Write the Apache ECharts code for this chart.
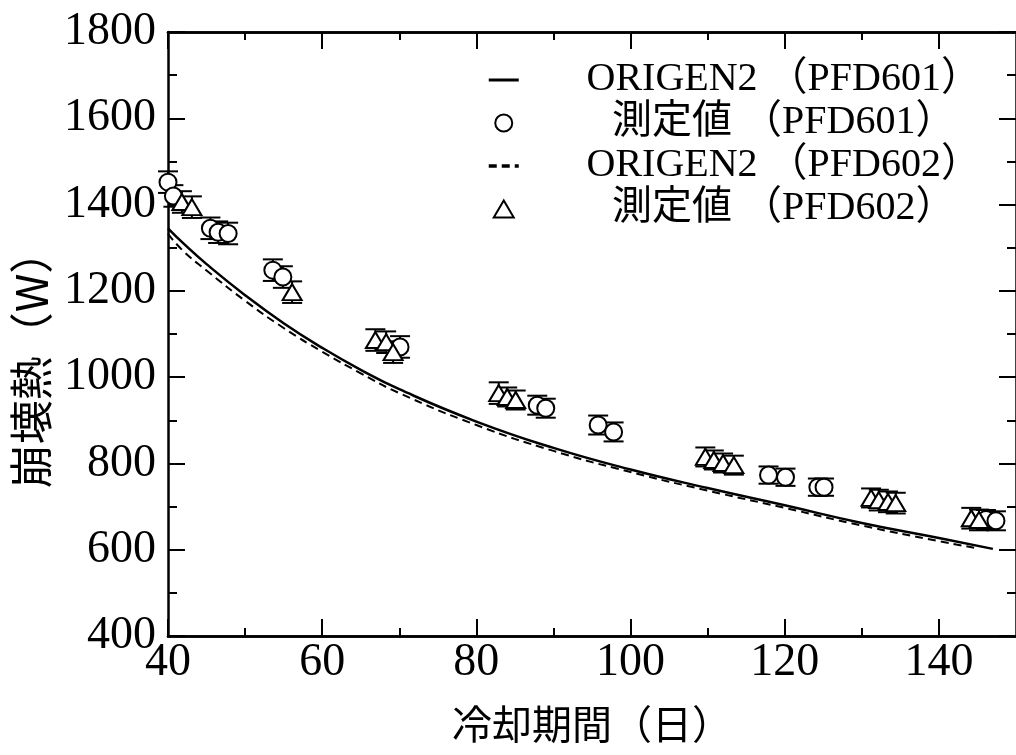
<!DOCTYPE html>
<html>
<head>
<meta charset="utf-8">
<script src="https://cdn.jsdelivr.net/npm/echarts@6/dist/echarts.min.js"></script>
<style>
html, body { margin: 0; padding: 0; background: #fff; }
#charts { width: 1016px; height: 755px; }
</style>
</head>
<body>
<div id="charts"></div>
<script>
// 崩壊熱の比較 (ORIGEN2 vs 測定値)
var seriesNames = ['ORIGEN2 （PFD601）', '測定値 （PFD601）', 'ORIGEN2 （PFD602）', '測定値 （PFD602）'];

var xTickLabels = [40, 60, 80, 100, 120, 140];
var xMinorTicks = [50, 70, 90, 110, 130];

// 計算値 (ORIGEN2)
var calc601 = [[40, 1345], [42, 1310], [45, 1262], [50, 1190], [55, 1125], [60, 1068], [65, 1017], [70, 972],
    [80, 897], [90, 836], [100, 786], [110, 743], [120, 703], [130, 662], [140, 627], [147, 602]];
var calc602 = [[40, 1332], [42, 1292], [45, 1247], [50, 1177], [55, 1114], [60, 1059], [65, 1009], [70, 963],
    [80, 889], [90, 829], [100, 780], [110, 737], [120, 697], [130, 656], [140, 620], [145, 603]];

// 測定値 [冷却期間, 崩壊熱]
var meas601 = [[40.0, 1452], [40.7, 1420], [45.5, 1345], [46.5, 1336], [47.8, 1333], [53.6, 1248], [54.9, 1232],
    [70.1, 1070], [87.9, 935], [89.0, 928], [95.8, 889], [97.8, 873], [117.9, 773], [120.1, 768],
    [124.3, 745], [125.1, 745], [146.1, 670], [147.4, 667]];
var meas602 = [[41.8, 1406], [43.1, 1394], [56.1, 1197], [66.9, 1086], [68.3, 1081], [69.2, 1058],
    [82.9, 963], [84.0, 954], [85.1, 947], [109.7, 815], [110.8, 808], [112.0, 801], [113.4, 796],
    [131.2, 720], [132.2, 715], [133.4, 711], [134.4, 708], [144.2, 673], [145.2, 669]];
// 誤差 (±W)
var err601 = [25, 25, 25, 25, 25, 25, 25, 25, 22, 22, 22, 22, 20, 20, 20, 20, 22, 22];
var err602 = [25, 25, 25, 25, 25, 25, 25, 22, 22, 22, 22, 22, 22, 22, 24, 24, 24, 24, 24];

function withErr(pts, errs) {
    return pts.map(function (p, i) { return [p[0], p[1], errs[i]]; });
}

function errorBar(params, api) {
    var x = api.value(0), y = api.value(1), e = api.value(2);
    var top = api.coord([x, y + e]);
    var bot = api.coord([x, y - e]);
    var hw = 10;
    var st = { stroke: '#000', lineWidth: 2 };
    return {
        type: 'group',
        children: [
            { type: 'line', shape: { x1: top[0], y1: top[1], x2: bot[0], y2: bot[1] }, style: st },
            { type: 'line', shape: { x1: top[0] - hw, y1: top[1], x2: top[0] + hw, y2: top[1] }, style: st },
            { type: 'line', shape: { x1: bot[0] - hw, y1: bot[1], x2: bot[0] + hw, y2: bot[1] }, style: st }
        ]
    };
}

var serif = "'Liberation Serif', 'Noto Sans CJK JP', serif";
var axisLine = { show: true, lineStyle: { color: '#000', width: 2.5 } };

function xAx(pos, major, showLabel) {
    return {
        type: 'value', position: pos, min: 40, max: 150,
        axisLine: axisLine,
        axisTick: { show: true, inside: true, length: major ? 17 : 8, lineStyle: { color: '#000', width: 2 },
            customValues: major ? xTickLabels : xMinorTicks },
        axisLabel: showLabel ? { show: true, customValues: xTickLabels, margin: 4, color: '#000',
            fontSize: 46, fontFamily: serif } : { show: false },
        splitLine: { show: false }
    };
}

function yAx(pos, showLabel) {
    return {
        type: 'value', position: pos, min: 400, max: 1800, interval: 200,
        axisLine: axisLine,
        axisTick: { show: true, inside: true, length: 17, lineStyle: { color: '#000', width: 2 } },
        minorTick: { show: true, splitNumber: 2, length: 9, lineStyle: { color: '#000', width: 2 } },
        axisLabel: showLabel ? { show: true, margin: 12, color: '#000', fontSize: 46, fontFamily: serif,
            formatter: function (v) { return String(v); } } : { show: false },
        splitLine: { show: false }
    };
}

var myChart = echarts.init(document.getElementById('charts'));

var xMain = xAx('bottom', true, true);
xMain.name = '冷却期間（日）';
xMain.nameLocation = 'middle';
xMain.nameGap = 68;
xMain.nameTextStyle = { color: '#000', fontSize: 40, fontFamily: "'Noto Sans CJK JP'" };

var yMain = yAx('left', true);
yMain.name = '崩壊熱（W）';
yMain.nameLocation = 'middle';
yMain.nameGap = 103;
yMain.nameTextStyle = { color: '#000', fontSize: 44, fontFamily: "'Noto Sans CJK JP'", padding: [0, 50, 0, 0] };

// 線の凡例は記号なし
var noSymbol = { color: 'rgba(0,0,0,0)', borderWidth: 0, opacity: 0 };

myChart.setOption({
    backgroundColor: '#fff',
    animation: false,
    grid: {
        left: 168,
        right: 0,
        top: 32,
        bottom: 119,
        outerBoundsMode: 'none'
    },
    legend: {
        data: [
            { name: seriesNames[0], itemStyle: noSymbol, lineStyle: { width: 3 } },
            { name: seriesNames[1] },
            { name: seriesNames[2], itemStyle: noSymbol, lineStyle: { width: 3.5, type: [8, 5] } },
            { name: seriesNames[3], icon: 'path://M0,17 L10,0 L20,17 Z' }
        ],
        orient: 'vertical',
        left: 482,
        top: 55,
        itemGap: 3,
        itemWidth: 30,
        itemHeight: 17,
        symbolKeepAspect: true,
        formatter: function (name) { return '{c|' + name + '}'; },
        textStyle: {
            color: '#000', fontSize: 40, fontFamily: serif,
            rich: { c: { width: 520, align: 'center', fontSize: 40, lineHeight: 40, fontFamily: serif, color: '#000' } }
        }
    },
    xAxis: [xMain, xAx('bottom', false, false), xAx('top', true, false), xAx('top', false, false)],
    yAxis: [yMain, yAx('right', false)],
    series: [
        {
            name: seriesNames[0],
            type: 'line',
            data: calc601,
            smooth: true,
            symbol: 'none',
            lineStyle: { color: '#000', width: 2.5, type: 'solid' },
            itemStyle: { color: '#000' }
        },
        {
            name: seriesNames[2],
            type: 'line',
            data: calc602,
            smooth: true,
            symbol: 'none',
            lineStyle: { color: '#000', width: 2, type: [8, 5] },
            itemStyle: { color: '#000' }
        },
        {
            type: 'custom',
            renderItem: errorBar,
            data: withErr(meas601, err601),
            encode: { x: 0, y: 1 },
            z: 3
        },
        {
            type: 'custom',
            renderItem: errorBar,
            data: withErr(meas602, err602),
            encode: { x: 0, y: 1 },
            z: 3
        },
        {
            name: seriesNames[1],
            type: 'scatter',
            data: meas601,
            symbol: 'circle',
            symbolSize: 17,
            itemStyle: { color: '#fff', borderColor: '#000', borderWidth: 2, opacity: 1 },
            z: 4
        },
        {
            name: seriesNames[3],
            type: 'scatter',
            data: meas602,
            symbol: 'triangle',
            symbolSize: [19, 16],
            itemStyle: { color: '#fff', borderColor: '#000', borderWidth: 2, opacity: 1 },
            z: 4
        }
    ]
});
</script>
</body>
</html>
